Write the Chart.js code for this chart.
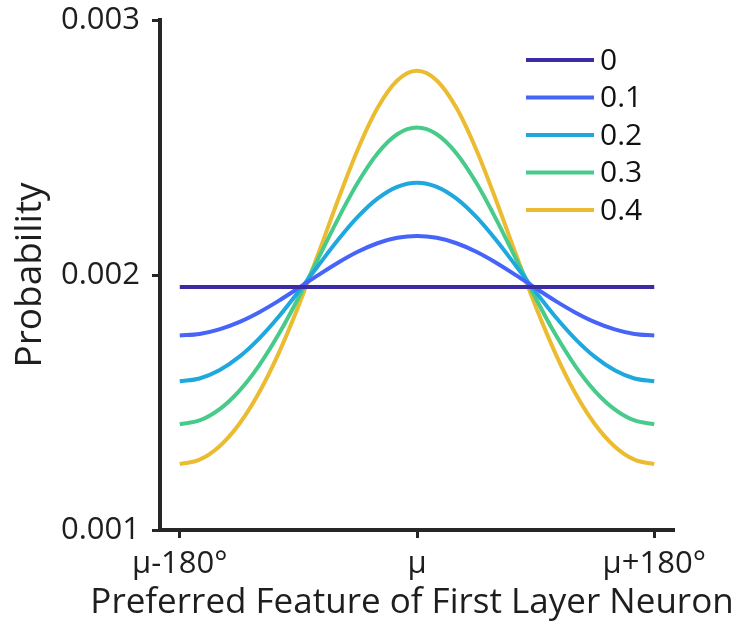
<!DOCTYPE html>
<html>
<head>
<meta charset="utf-8">
<script src="https://cdn.jsdelivr.net/npm/chart.js@4/dist/chart.umd.min.js"></script>
<style>
  html, body { margin: 0; padding: 0; background: #ffffff; }
  #wrap { width: 734px; height: 627px; }
</style>
</head>
<body>
<div id="wrap"><canvas id="c" width="734" height="627"></canvas></div>
<script>
// Preferred feature offsets (degrees from μ)
const angles = [-180,-165,-150,-135,-120,-105,-90,-75,-60,-45,-30,-15,0,15,30,45,60,75,90,105,120,135,150,165,180];

// Series (legend label -> probabilities)
const seriesLabels = ['0', '0.1', '0.2', '0.3', '0.4'];
const p00 = [0.001953,0.001953,0.001953,0.001953,0.001953,0.001953,0.001953,0.001953,0.001953,0.001953,0.001953,0.001953,0.001953,0.001953,0.001953,0.001953,0.001953,0.001953,0.001953,0.001953,0.001953,0.001953,0.001953,0.001953,0.001953];
const p01 = [0.0017629,0.0017689,0.0017867,0.0018153,0.0018533,0.0018985,0.0019483,0.0019994,0.0020482,0.0020911,0.0021245,0.0021459,0.0021532,0.0021459,0.0021245,0.0020911,0.0020482,0.0019994,0.0019483,0.0018985,0.0018533,0.0018153,0.0017867,0.0017689,0.0017629];
const p02 = [0.0015833,0.0015941,0.0016263,0.0016788,0.0017498,0.0018362,0.0019338,0.0020365,0.0021372,0.0022276,0.0022995,0.0023459,0.0023619,0.0023459,0.0022995,0.0022276,0.0021372,0.0020365,0.0019338,0.0018362,0.0017498,0.0016788,0.0016263,0.0015941,0.0015833];
const p03 = [0.0014150,0.0014295,0.0014730,0.0015449,0.0016440,0.0017673,0.0019100,0.0020642,0.0022191,0.0023614,0.0024767,0.0025520,0.0025782,0.0025520,0.0024767,0.0023614,0.0022191,0.0020642,0.0019100,0.0017673,0.0016440,0.0015449,0.0014730,0.0014295,0.0014150];
const p04 = [0.0012584,0.0012757,0.0013277,0.0014148,0.0015370,0.0016927,0.0018773,0.0020821,0.0022930,0.0024910,0.0026545,0.0027627,0.0028006,0.0027627,0.0026545,0.0024910,0.0022930,0.0020821,0.0018773,0.0016927,0.0015370,0.0014148,0.0013277,0.0012757,0.0012584];
const seriesValues = [p00, p01, p02, p03, p04];
const seriesColors = ['#3b2ba6', '#4664f8', '#1fa8de', '#48cb8a', '#ebbb30'];

// Tick labels and axis titles
const xTickValues = [-180, 0, 180];
const xTickLabels = ['μ-180°', 'μ', 'μ+180°'];
const yTickValues = [0.001, 0.002, 0.003];
const yTickLabels = ['0.001', '0.002', '0.003'];
const xTitle = 'Preferred Feature of First Layer Neuron';
const yTitle = 'Probability';

const FONT = '"Open Sans", "Noto Sans", sans-serif';
const INK = '#262626';
const TXT = '#1e1e1e';

const datasets = seriesValues.map((vals, i) => ({
  label: seriesLabels[i],
  data: angles.map((a, j) => ({ x: a, y: vals[j] })),
  borderColor: seriesColors[i],
  backgroundColor: seriesColors[i],
  borderWidth: 4,
  pointRadius: 0,
  cubicInterpolationMode: 'monotone',
  fill: false
}));

const legendPlugin = {
  id: 'insideLegend',
  afterDatasetsDraw(chart) {
    const ctx = chart.ctx;
    const area = chart.chartArea;
    const x0 = area.right - 148, x1 = area.right - 80, tx = area.right - 74;
    const y0 = area.top + 40, dy = 37.5;
    ctx.save();
    ctx.font = '30px ' + FONT;
    ctx.textBaseline = 'middle';
    ctx.textAlign = 'left';
    chart.data.datasets.forEach((ds, i) => {
      const y = y0 + i * dy;
      ctx.strokeStyle = ds.borderColor;
      ctx.lineWidth = 4;
      ctx.beginPath();
      ctx.moveTo(x0, y);
      ctx.lineTo(x1, y);
      ctx.stroke();
      ctx.fillStyle = '#111111';
      ctx.fillText(ds.label, tx, y + 1);
    });
    ctx.restore();
  }
};

// x-axis title drawn wider than the plot area (as in the reference)
const xTitlePlugin = {
  id: 'xTitle',
  afterDraw(chart) {
    const ctx = chart.ctx;
    const area = chart.chartArea;
    ctx.save();
    ctx.font = '35px ' + FONT;
    ctx.fillStyle = TXT;
    ctx.textAlign = 'center';
    ctx.textBaseline = 'alphabetic';
    ctx.fillText(xTitle, (area.left + area.right) / 2 - 5, area.bottom + 83);
    ctx.restore();
  }
};

new Chart(document.getElementById('c'), {
  type: 'line',
  data: { datasets },
  plugins: [legendPlugin, xTitlePlugin],
  options: {
    responsive: false,
    animation: false,
    layout: { padding: { top: 20, right: 60, left: 0, bottom: 0 } },
    plugins: { legend: { display: false }, tooltip: { enabled: false } },
    scales: {
      x: {
        type: 'linear',
        min: -195, max: 195,
        afterBuildTicks: s => { s.ticks = xTickValues.map(v => ({ value: v })); },
        afterFit: s => { s.height = 97; s.paddingLeft = 0; s.paddingRight = 0; },
        ticks: {
          callback: v => xTickLabels[xTickValues.indexOf(v)],
          font: { family: FONT, size: 31 },
          color: TXT,
          padding: 8,
          maxRotation: 0,
          autoSkip: false
        },
        grid: { display: true, drawOnChartArea: false, drawTicks: true, tickLength: 8, tickWidth: 3, color: INK },
        border: { display: true, width: 4, color: INK },
        title: { display: false }
      },
      y: {
        type: 'linear',
        min: 0.001, max: 0.003,
        afterBuildTicks: s => { s.ticks = yTickValues.map(v => ({ value: v })); },
        afterFit: s => { s.width = 160; s.paddingTop = 0; s.paddingBottom = 0; },
        ticks: {
          callback: v => yTickLabels[yTickValues.indexOf(v)],
          font: { family: FONT, size: 31 },
          color: TXT,
          padding: 12
        },
        grid: { display: true, drawOnChartArea: false, drawTicks: true, tickLength: 8, tickWidth: 3, color: INK },
        border: { display: true, width: 4, color: INK },
        title: { display: true, text: yTitle, font: { family: FONT, size: 37 }, color: TXT, padding: { top: 8, bottom: 0 } }
      }
    }
  }
});
</script>
</body>
</html>
